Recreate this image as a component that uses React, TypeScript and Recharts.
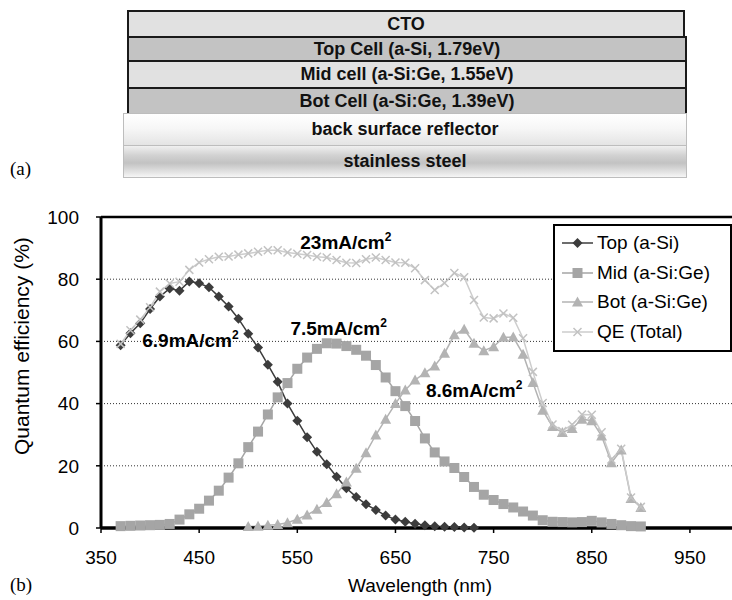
import React from 'react';
import {
  LineChart,
  Line,
  XAxis,
  YAxis,
  CartesianGrid,
  ReferenceLine,
  ReferenceDot,
  Legend,
} from 'recharts';

// wavelength grid (nm), 10 nm steps
const wavelengths = [
  370, 380, 390, 400, 410, 420, 430, 440, 450, 460,
  470, 480, 490, 500, 510, 520, 530, 540, 550, 560,
  570, 580, 590, 600, 610, 620, 630, 640, 650, 660,
  670, 680, 690, 700, 710, 720, 730, 740, 750, 760,
  770, 780, 790, 800, 810, 820, 830, 840, 850, 860,
  870, 880, 890, 900,
];

// top cell starts at 370 nm
const topCell = [
  58.8, 62.6, 65.8, 70.4, 74.4, 77, 76.3, 79.3, 78.7, 77.4,
  74.4, 71.2, 67.3, 62.5, 58, 52.5, 47, 40, 34.5, 29.2,
  24.5, 20.5, 16.5, 12.8, 10, 7.6, 5.8, 4, 2.7, 2,
  1.4, 0.9, 0.6, 0.4, 0.3, 0.2, 0.1,
];

// mid cell starts at 370 nm
const midCell = [
  0.6, 0.7, 0.8, 0.9, 1, 1.3, 2.7, 4.4, 6.2, 8.8,
  12, 16.2, 20.8, 26, 31, 36.5, 42, 46.6, 51.2, 54.8,
  57.6, 59.4, 59.3, 58.5, 57.3, 55.4, 52.4, 48.4, 44, 39.2,
  34.4, 28.8, 24.3, 21.4, 19.3, 16.4, 13.2, 10.7, 9, 7.7,
  6.6, 5.3, 4, 2.5, 2, 1.9, 1.8, 1.9, 2.3, 1.8,
  1.3, 0.9, 0.6, 0.5,
];

// bottom cell starts at 500 nm
const botStart = 500;
const botCell = [
  0.5, 0.6, 0.9, 1.1, 1.7, 2.8, 4.2, 6, 8.2, 11,
  14.8, 19.2, 24.2, 29.9, 35, 40, 44.4, 47.6, 49.9, 52.1,
  56.2, 62.1, 63.9, 59.4, 57, 58.3, 61.3, 61.4, 55.9, 46.8,
  37.9, 32.6, 30.7, 32, 35, 34.5, 29.6, 21, 25.1, 9.5,
  6.6,
];

// total QE starts at 370 nm
const qeTotal = [
  59.2, 63.6, 67, 71, 76, 78.6, 79.2, 83, 85.4, 86.4,
  87.2, 87.3, 87.9, 88.3, 88.8, 89.3, 89.3, 88.6, 88.2, 87.8,
  87.2, 87, 86.2, 85.3, 85.2, 86.4, 87, 86.2, 85.4, 85.3,
  83.5, 79.7, 76.5, 78.8, 82, 80.6, 73.3, 67.7, 67.4, 69,
  67.6, 61, 50.2, 40.2, 33.3, 31.2, 33.2, 36.5, 36.4, 30.8,
  22, 25.5, 9.8, 6.8,
];

const seriesKeys = ['top', 'mid', 'bot', 'qe'];
const seriesNames = ['Top (a-Si)', 'Mid (a-Si:Ge)', 'Bot (a-Si:Ge)', 'QE (Total)'];

const xTicks = [350, 450, 550, 650, 750, 850, 950];
const yTicks = [0, 20, 40, 60, 80, 100];

// photocurrent annotations
const annoLabels = ['6.9mA/cm', '7.5mA/cm', '23mA/cm', '8.6mA/cm'];
const annoX = [392, 543, 553, 681];
const annoY = [58.2, 62, 89.7, 42.1];

// device stack, top to bottom
const layerNames = [
  'CTO',
  'Top Cell (a-Si, 1.79eV)',
  'Mid cell (a-Si:Ge, 1.55eV)',
  'Bot Cell (a-Si:Ge, 1.39eV)',
  'back surface reflector',
  'stainless steel',
];

const layerStyles: React.CSSProperties[] = [
  { left: 127, top: 10, width: 558, height: 28, background: '#e1e1e1', border: '2px solid #1a1a1a' },
  { left: 127, top: 36, width: 560, height: 26, background: '#c3c3c3', border: '2px solid #1a1a1a' },
  { left: 127, top: 60, width: 560, height: 29, background: '#e1e1e1', border: '2px solid #1a1a1a' },
  { left: 127, top: 87, width: 560, height: 27, background: '#c3c3c3', border: '2px solid #1a1a1a', borderBottom: 'none' },
  {
    left: 123, top: 113, width: 564, height: 33,
    background: 'linear-gradient(to bottom, #ffffff 0%, #f7f7f7 45%, #e4e4e4 100%)',
    border: '1.5px solid #bdbdbd',
  },
  {
    left: 123, top: 145, width: 564, height: 33,
    background: 'linear-gradient(to bottom, #f0f0f0 0%, #d2d2d2 30%, #c2c2c2 55%, #e4e4e4 85%, #f6f6f6 100%)',
    border: '1.5px solid #bdbdbd',
  },
];

const seriesStyle: Record<string, { color: string; line: string; marker: string }> = {
  top: { color: '#3c3c3c', line: '#3c3c3c', marker: 'diamond' },
  mid: { color: '#a5a5a5', line: '#a5a5a5', marker: 'square' },
  bot: { color: '#b3b3b3', line: '#b3b3b3', marker: 'triangle' },
  qe: { color: '#c2c2c2', line: '#cdcdcd', marker: 'cross' },
};

const botOffset = wavelengths.indexOf(botStart);
const rows = wavelengths.map((wl, i) => ({
  wl,
  top: topCell[i],
  mid: midCell[i],
  bot: i >= botOffset ? botCell[i - botOffset] : undefined,
  qe: qeTotal[i],
}));

function marker(kind: string, cx: number, cy: number, color: string, key?: string) {
  if (kind === 'diamond')
    return <path key={key} d={`M${cx},${cy - 5}L${cx + 5},${cy}L${cx},${cy + 5}L${cx - 5},${cy}Z`} fill={color} />;
  if (kind === 'square')
    return <rect key={key} x={cx - 5} y={cy - 5} width={10} height={10} fill={color} />;
  if (kind === 'triangle')
    return <path key={key} d={`M${cx},${cy - 5.5}L${cx + 5.5},${cy + 4.5}L${cx - 5.5},${cy + 4.5}Z`} fill={color} />;
  return (
    <path
      key={key}
      d={`M${cx - 4},${cy - 4}L${cx + 4},${cy + 4}M${cx - 4},${cy + 4}L${cx + 4},${cy - 4}`}
      stroke={color}
      strokeWidth={1.5}
      fill="none"
    />
  );
}

const dotFor = (key: string) => (p: any) => {
  if (p.cx == null || p.cy == null || p.value == null) return <g key={`${key}-${p.index}`} />;
  const s = seriesStyle[key];
  return marker(s.marker, p.cx, p.cy, s.color, `${key}-${p.index}`);
};

const renderLegend = (props: any) => {
  const payload = [...(props.payload || [])].sort(
    (a: any, b: any) => seriesKeys.indexOf(a.dataKey) - seriesKeys.indexOf(b.dataKey)
  );
  return (
    <div
      style={{
        boxSizing: 'border-box',
        width: 179,
        height: 128,
        border: '2px solid #000',
        background: '#fff',
        position: 'relative',
      }}
    >
      {payload.map((entry: any, i: number) => {
        const s = seriesStyle[entry.dataKey];
        return (
          <div
            key={entry.value}
            style={{ position: 'absolute', left: 7, top: 4 + i * 29.5, height: 26, display: 'flex', alignItems: 'center' }}
          >
            <svg width={31} height={16}>
              <line x1={0} y1={8} x2={31} y2={8} stroke={s.line} strokeWidth={1.5} />
              {marker(s.marker, 15.5, 8, s.color)}
            </svg>
            <span style={{ marginLeft: 4, fontSize: 19, color: '#000', whiteSpace: 'nowrap' }}>{entry.value}</span>
          </div>
        );
      })}
    </div>
  );
};

const annoContent = (text: string) => (p: any) => {
  const vb = p.viewBox || {};
  return (
    <text x={vb.x} y={vb.y} fill="#000" fontSize={19} fontWeight="bold" fontFamily='"Liberation Sans", Arial, sans-serif'>
      {text}
      <tspan fontSize={12} dy={-8}>2</tspan>
    </text>
  );
};

// y title sits a little above the middle of the axis
const yTitle = (p: any) => {
  const vb = p.viewBox || { x: 0, y: 0, width: 0, height: 0 };
  const cx = vb.x + 22;
  const cy = vb.y + vb.height * 0.415;
  return (
    <text
      x={cx}
      y={cy}
      transform={`rotate(-90 ${cx} ${cy})`}
      textAnchor="middle"
      dominantBaseline="central"
      fontSize={21}
      fill="#000"
    >
      Quantum efficiency (%)
    </text>
  );
};

export default function App() {
  return (
    <div
      style={{
        position: 'fixed',
        left: 0,
        top: 0,
        width: 732,
        height: 600,
        overflow: 'hidden',
        background: '#fff',
        fontFamily: '"Liberation Sans", Arial, sans-serif',
      }}
    >
      {layerNames.map((name, i) => (
        <div
          key={name}
          style={{
            position: 'absolute',
            boxSizing: 'border-box',
            display: 'flex',
            alignItems: 'center',
            justifyContent: 'center',
            fontWeight: 'bold',
            fontSize: 18,
            color: '#111',
            ...layerStyles[i],
          }}
        >
          {name}
        </div>
      ))}
      <div style={{ position: 'absolute', left: 10, top: 158, fontFamily: '"Liberation Serif", "Times New Roman", serif', fontSize: 19 }}>
        (a)
      </div>
      <div style={{ position: 'absolute', left: 10, top: 574, fontFamily: '"Liberation Serif", "Times New Roman", serif', fontSize: 19 }}>
        (b)
      </div>

      <div style={{ position: 'absolute', left: 0, top: 0 }}>
        <LineChart width={745} height={600} data={rows} margin={{ top: 217, right: 6, bottom: 0, left: 0 }}>
          <CartesianGrid vertical={false} stroke="#333" strokeDasharray="1 2" />
          <XAxis
            dataKey="wl"
            type="number"
            domain={[350, 1000]}
            ticks={xTicks}
            interval={0}
            height={72}
            tickSize={5}
            tickMargin={18}
            axisLine={{ stroke: '#000', strokeWidth: 3.5 }}
            tickLine={{ stroke: '#000', strokeWidth: 1.5 }}
            tick={{ fontSize: 19, fill: '#000' }}
            label={{ value: 'Wavelength (nm)', position: 'insideBottom', offset: 8, style: { fontSize: 19, fill: '#000' } }}
          />
          <YAxis
            type="number"
            domain={[0, 100]}
            ticks={yTicks}
            interval={0}
            width={101}
            tickSize={5}
            tickMargin={17}
            axisLine={{ stroke: '#000', strokeWidth: 3 }}
            tickLine={{ stroke: '#000', strokeWidth: 1.5 }}
            tick={{ fontSize: 19, fill: '#000' }}
            label={{ content: yTitle }}
          />
          <ReferenceLine y={100} stroke="#000" strokeWidth={2.5} />
          {seriesKeys.map((key, i) => (
            <Line
              key={key}
              type="linear"
              dataKey={key}
              name={seriesNames[i]}
              stroke={seriesStyle[key].line}
              strokeWidth={1.5}
              dot={dotFor(key)}
              activeDot={false}
              isAnimationActive={false}
            />
          ))}
          {annoLabels.map((t, i) => (
            <ReferenceDot
              key={t}
              x={annoX[i]}
              y={annoY[i]}
              r={0}
              fill="none"
              stroke="none"
              label={{ content: annoContent(t) }}
            />
          ))}
          <Legend
            layout="vertical"
            align="center"
            verticalAlign="middle"
            content={renderLegend}
            wrapperStyle={{ left: 553, top: 224, width: 179, height: 128 }}
          />
        </LineChart>
      </div>
    </div>
  );
}
